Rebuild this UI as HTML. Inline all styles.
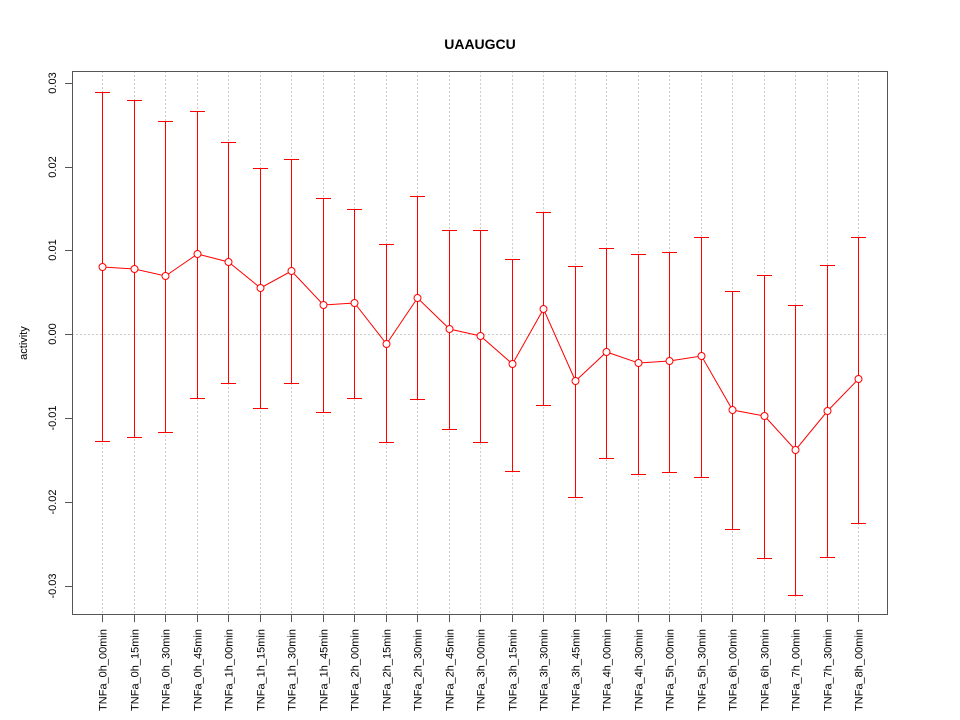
<!DOCTYPE html>
<html><head><meta charset="utf-8"><style>body{margin:0;background:#fff}svg{display:block}</style></head><body>
<svg width="960" height="720" xmlns="http://www.w3.org/2000/svg" font-family="Liberation Sans, sans-serif">
<text x="480" y="49" text-anchor="middle" font-size="14" font-weight="bold">UAAUGCU</text>
<g stroke="#ccc" stroke-dasharray="2,2" stroke-width="1">
<line x1="72" y1="334.5" x2="888" y2="334.5"/>
<path d="M102.5 71V615M134.5 71V615M165.5 71V615M197.5 71V615M228.5 71V615M260.5 71V615M291.5 71V615M323.5 71V615M354.5 71V615M386.5 71V615M417.5 71V615M449.5 71V615M480.5 71V615M512.5 71V615M543.5 71V615M575.5 71V615M606.5 71V615M638.5 71V615M669.5 71V615M701.5 71V615M732.5 71V615M764.5 71V615M795.5 71V615M827.5 71V615M858.5 71V615"/>
</g>
<g stroke="#f00" stroke-width="1" fill="none">
<path d="M102.5 92V441M134.5 100V437M165.5 121V432M197.5 111V398M228.5 142V383M260.5 168V408M291.5 159V383M323.5 198V412M354.5 209V398M386.5 244V442M417.5 196V399M449.5 230V429M480.5 230V442M512.5 259V471M543.5 212V405M575.5 266V497M606.5 248V458M638.5 254V474M669.5 252V472M701.5 237V477M732.5 291V529M764.5 275V558M795.5 305V595M827.5 265V557M858.5 237V523"/>
<path d="M95 92.5h15M95 441.5h15M127 100.5h15M127 437.5h15M158 121.5h15M158 432.5h15M190 111.5h15M190 398.5h15M221 142.5h15M221 383.5h15M253 168.5h15M253 408.5h15M284 159.5h15M284 383.5h15M316 198.5h15M316 412.5h15M347 209.5h15M347 398.5h15M379 244.5h15M379 442.5h15M410 196.5h15M410 399.5h15M442 230.5h15M442 429.5h15M473 230.5h15M473 442.5h15M505 259.5h15M505 471.5h15M536 212.5h15M536 405.5h15M568 266.5h15M568 497.5h15M599 248.5h15M599 458.5h15M631 254.5h15M631 474.5h15M662 252.5h15M662 472.5h15M694 237.5h15M694 477.5h15M725 291.5h15M725 529.5h15M757 275.5h15M757 558.5h15M788 305.5h15M788 595.5h15M820 265.5h15M820 557.5h15M851 237.5h15M851 523.5h15"/>
</g>
<polyline fill="none" stroke="#f00" points="102.5,267 134.5,269 165.5,276 197.5,254 228.5,262 260.5,288 291.5,271 323.5,305 354.5,303 386.5,344 417.5,298 449.5,329 480.5,336 512.5,364 543.5,309 575.5,381 606.5,352 638.5,363 669.5,361 701.5,356 732.5,410 764.5,416 795.5,450 827.5,411 858.5,379"/>
<g stroke="#f00" fill="#fff">
<circle cx="102.5" cy="267" r="3.5"/><circle cx="134.5" cy="269" r="3.5"/><circle cx="165.5" cy="276" r="3.5"/><circle cx="197.5" cy="254" r="3.5"/><circle cx="228.5" cy="262" r="3.5"/><circle cx="260.5" cy="288" r="3.5"/><circle cx="291.5" cy="271" r="3.5"/><circle cx="323.5" cy="305" r="3.5"/><circle cx="354.5" cy="303" r="3.5"/><circle cx="386.5" cy="344" r="3.5"/><circle cx="417.5" cy="298" r="3.5"/><circle cx="449.5" cy="329" r="3.5"/><circle cx="480.5" cy="336" r="3.5"/><circle cx="512.5" cy="364" r="3.5"/><circle cx="543.5" cy="309" r="3.5"/><circle cx="575.5" cy="381" r="3.5"/><circle cx="606.5" cy="352" r="3.5"/><circle cx="638.5" cy="363" r="3.5"/><circle cx="669.5" cy="361" r="3.5"/><circle cx="701.5" cy="356" r="3.5"/><circle cx="732.5" cy="410" r="3.5"/><circle cx="764.5" cy="416" r="3.5"/><circle cx="795.5" cy="450" r="3.5"/><circle cx="827.5" cy="411" r="3.5"/><circle cx="858.5" cy="379" r="3.5"/>
</g>
<rect x="72.5" y="71.5" width="815" height="543" fill="none" stroke="#555" stroke-width="1"/>
<g stroke="#555">
<path d="M65 83.5H72M65 167.5H72M65 250.5H72M65 334.5H72M65 418.5H72M65 502.5H72M65 586.5H72"/>
<path d="M102.5 615v7M134.5 615v7M165.5 615v7M197.5 615v7M228.5 615v7M260.5 615v7M291.5 615v7M323.5 615v7M354.5 615v7M386.5 615v7M417.5 615v7M449.5 615v7M480.5 615v7M512.5 615v7M543.5 615v7M575.5 615v7M606.5 615v7M638.5 615v7M669.5 615v7M701.5 615v7M732.5 615v7M764.5 615v7M795.5 615v7M827.5 615v7M858.5 615v7"/>
</g>
<g font-size="11" text-anchor="middle">
<text transform="translate(56,83) rotate(-90)">0.03</text>
<text transform="translate(56,167) rotate(-90)">0.02</text>
<text transform="translate(56,250) rotate(-90)">0.01</text>
<text transform="translate(56,334) rotate(-90)">0.00</text>
<text transform="translate(56,418) rotate(-90)">-0.01</text>
<text transform="translate(56,502) rotate(-90)">-0.02</text>
<text transform="translate(56,586) rotate(-90)">-0.03</text>
<text transform="translate(27,343) rotate(-90)">activity</text>
</g>
<g font-size="11" text-anchor="end">
<text transform="translate(106.5,629) rotate(-90)">TNFa_0h_00min</text>
<text transform="translate(138.5,629) rotate(-90)">TNFa_0h_15min</text>
<text transform="translate(169.5,629) rotate(-90)">TNFa_0h_30min</text>
<text transform="translate(201.5,629) rotate(-90)">TNFa_0h_45min</text>
<text transform="translate(232.5,629) rotate(-90)">TNFa_1h_00min</text>
<text transform="translate(264.5,629) rotate(-90)">TNFa_1h_15min</text>
<text transform="translate(295.5,629) rotate(-90)">TNFa_1h_30min</text>
<text transform="translate(327.5,629) rotate(-90)">TNFa_1h_45min</text>
<text transform="translate(358.5,629) rotate(-90)">TNFa_2h_00min</text>
<text transform="translate(390.5,629) rotate(-90)">TNFa_2h_15min</text>
<text transform="translate(421.5,629) rotate(-90)">TNFa_2h_30min</text>
<text transform="translate(453.5,629) rotate(-90)">TNFa_2h_45min</text>
<text transform="translate(484.5,629) rotate(-90)">TNFa_3h_00min</text>
<text transform="translate(516.5,629) rotate(-90)">TNFa_3h_15min</text>
<text transform="translate(547.5,629) rotate(-90)">TNFa_3h_30min</text>
<text transform="translate(579.5,629) rotate(-90)">TNFa_3h_45min</text>
<text transform="translate(610.5,629) rotate(-90)">TNFa_4h_00min</text>
<text transform="translate(642.5,629) rotate(-90)">TNFa_4h_30min</text>
<text transform="translate(673.5,629) rotate(-90)">TNFa_5h_00min</text>
<text transform="translate(705.5,629) rotate(-90)">TNFa_5h_30min</text>
<text transform="translate(736.5,629) rotate(-90)">TNFa_6h_00min</text>
<text transform="translate(768.5,629) rotate(-90)">TNFa_6h_30min</text>
<text transform="translate(799.5,629) rotate(-90)">TNFa_7h_00min</text>
<text transform="translate(831.5,629) rotate(-90)">TNFa_7h_30min</text>
<text transform="translate(862.5,629) rotate(-90)">TNFa_8h_00min</text>
</g>
</svg>
</body></html>
